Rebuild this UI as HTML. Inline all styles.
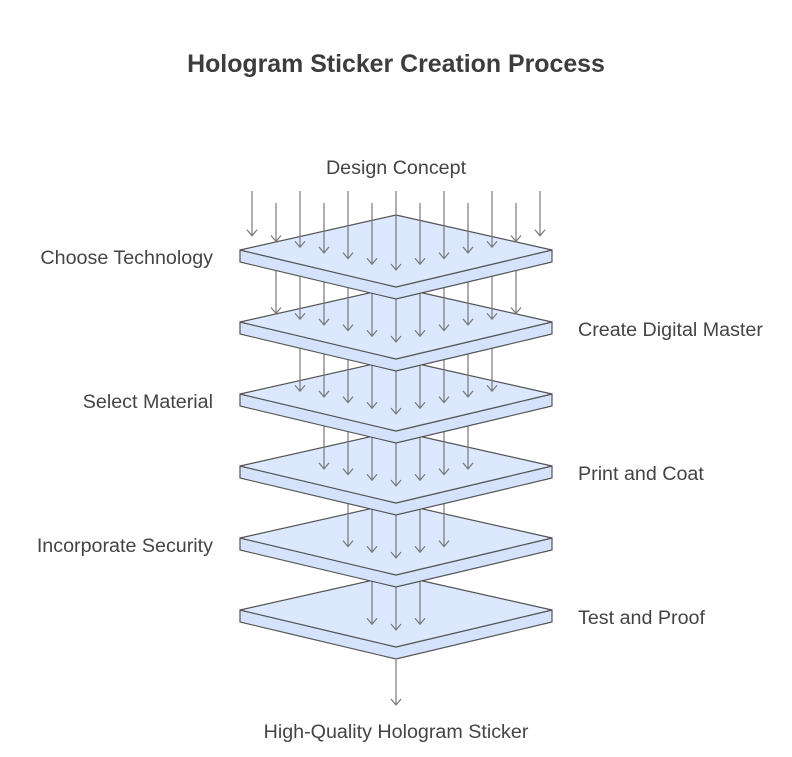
<!DOCTYPE html>
<html><head><style>body{margin:0;background:#fff}</style></head><body>
<svg width="792" height="752" xmlns="http://www.w3.org/2000/svg" xmlns:xlink="http://www.w3.org/1999/xlink" font-family="Liberation Sans, sans-serif">
<defs>
<marker id="m" viewBox="-7 -6 8 12" refX="0" refY="0" markerWidth="8" markerHeight="12" markerUnits="userSpaceOnUse" orient="auto">
<path d="M-6,-5 L0,0 L-6,5" fill="none" stroke="#777" stroke-width="1.2"/>
</marker>
<g id="L">
<polygon points="240,250 396,287 552,250 552,262 396,299 240,262" fill="#d4e2fb" stroke="#555" stroke-width="1.2"/>
<polygon points="396,215 552,250 396,287 240,250" fill="#dce8fd" stroke="#555" stroke-width="1.2"/>
</g>
<g id="G0" stroke="#777" stroke-width="1.2" marker-end="url(#m)"><line x1="396" y1="205" x2="396" y2="270"/></g>
<g id="G1" stroke="#777" stroke-width="1.2" marker-end="url(#m)"><line x1="372" y1="199.3" x2="372" y2="264.3"/><line x1="420" y1="199.3" x2="420" y2="264.3"/></g>
<g id="G2" stroke="#777" stroke-width="1.2" marker-end="url(#m)"><line x1="348" y1="193.6" x2="348" y2="258.6"/><line x1="444" y1="193.6" x2="444" y2="258.6"/></g>
<g id="G3" stroke="#777" stroke-width="1.2" marker-end="url(#m)"><line x1="324" y1="187.9" x2="324" y2="252.9"/><line x1="468" y1="187.9" x2="468" y2="252.9"/></g>
<g id="G4" stroke="#777" stroke-width="1.2" marker-end="url(#m)"><line x1="300" y1="182.2" x2="300" y2="247.2"/><line x1="492" y1="182.2" x2="492" y2="247.2"/></g>
<g id="G5" stroke="#777" stroke-width="1.2" marker-end="url(#m)"><line x1="276" y1="176.5" x2="276" y2="241.5"/><line x1="516" y1="176.5" x2="516" y2="241.5"/></g>
</defs>
<rect width="792" height="752" fill="#fff"/>
<text x="396" y="72" text-anchor="middle" font-size="24.9" font-weight="bold" fill="#3d3d3d">Hologram Sticker Creation Process</text>
<g font-size="19.7" fill="#444">
<text x="396" y="174" text-anchor="middle">Design Concept</text>
<text x="213" y="264" text-anchor="end">Choose Technology</text>
<text x="578" y="336">Create Digital Master</text>
<text x="213" y="408" text-anchor="end">Select Material</text>
<text x="578" y="480">Print and Coat</text>
<text x="213" y="552" text-anchor="end">Incorporate Security</text>
<text x="578" y="624">Test and Proof</text>
<text x="396" y="738" text-anchor="middle">High-Quality Hologram Sticker</text>
</g>
<line x1="396" y1="660" x2="396" y2="705" stroke="#777" stroke-width="1.2" marker-end="url(#m)"/>
<g transform="translate(0,360)"><use xlink:href="#L"/><use xlink:href="#G0"/><use xlink:href="#G1"/></g>
<g transform="translate(0,288)"><use xlink:href="#L"/><use xlink:href="#G0"/><use xlink:href="#G1"/><use xlink:href="#G2"/></g>
<g transform="translate(0,216)"><use xlink:href="#L"/><use xlink:href="#G0"/><use xlink:href="#G1"/><use xlink:href="#G2"/><use xlink:href="#G3"/></g>
<g transform="translate(0,144)"><use xlink:href="#L"/><use xlink:href="#G0"/><use xlink:href="#G1"/><use xlink:href="#G2"/><use xlink:href="#G3"/><use xlink:href="#G4"/></g>
<g transform="translate(0,72)"><use xlink:href="#L"/><use xlink:href="#G0"/><use xlink:href="#G1"/><use xlink:href="#G2"/><use xlink:href="#G3"/><use xlink:href="#G4"/><use xlink:href="#G5"/></g>
<use xlink:href="#L"/>
<g stroke="#777" stroke-width="1.2" marker-end="url(#m)">
<line x1="252" y1="191" x2="252" y2="235.8"/>
<line x1="276" y1="203" x2="276" y2="241.5"/>
<line x1="300" y1="191" x2="300" y2="247.2"/>
<line x1="324" y1="203" x2="324" y2="252.9"/>
<line x1="348" y1="191" x2="348" y2="258.6"/>
<line x1="372" y1="203" x2="372" y2="264.3"/>
<line x1="396" y1="191" x2="396" y2="270"/>
<line x1="420" y1="203" x2="420" y2="264.3"/>
<line x1="444" y1="191" x2="444" y2="258.6"/>
<line x1="468" y1="203" x2="468" y2="252.9"/>
<line x1="492" y1="191" x2="492" y2="247.2"/>
<line x1="516" y1="203" x2="516" y2="241.5"/>
<line x1="540" y1="191" x2="540" y2="235.8"/>
</g>
</svg>
</body></html>
